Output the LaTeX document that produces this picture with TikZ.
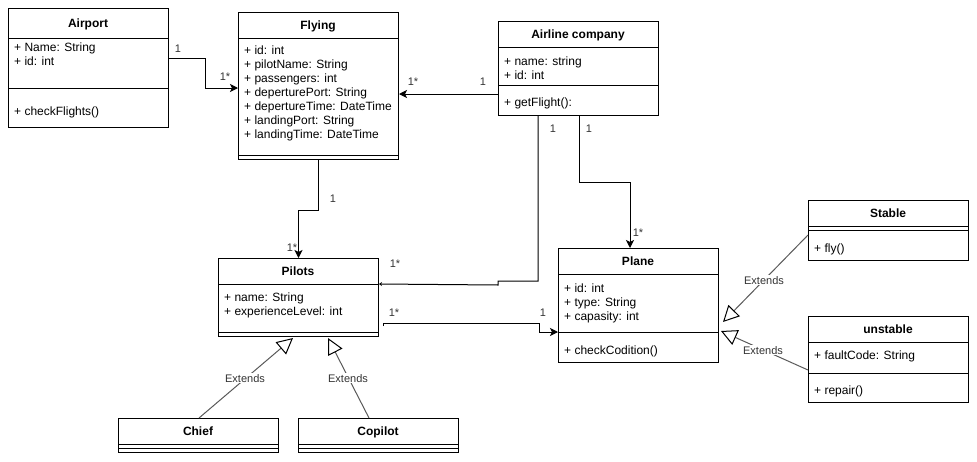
\documentclass[tikz,border=0pt]{standalone}
\usepackage{fontspec}
\setmainfont{Liberation Sans}
\usetikzlibrary{arrows.meta,calc}
\begin{document}
\begin{tikzpicture}[x=1pt,y=-1pt,
  cls/.style={draw, line width=1pt, anchor=north west, minimum width=160pt, inner sep=0pt, fill=white},
  ttl/.style={font=\fontsize{12}{14}\selectfont\bfseries, inner sep=0pt, text height=8.6pt, text depth=0pt},
  attr/.style={font=\fontsize{12}{14}\selectfont, anchor=west, inner sep=0pt, text height=8.6pt, text depth=0pt},
  div/.style={line width=1pt},
  assoc/.style={line width=1pt, -{Stealth[length=8pt,width=8pt,inset=2pt]}},
  tinyarrow/.style={line width=1pt, -{Stealth[length=3pt,width=4pt,inset=1pt]}},
  ext/.style={line width=1pt, draw=black!65, -{Triangle[open,length=16pt,width=16pt,black]}},
  lbl/.style={font=\fontsize{11}{13}\selectfont, text=black!80, inner sep=0pt, text height=8pt, text depth=0pt},
  extl/.style={lbl, fill=white, inner sep=1pt}
]
\useasboundingbox (0,0) rectangle (977,461);

% ---------- classes ----------
\node[cls, minimum height=119pt] (airport) at (8,8) {};
\draw[div] (airport.west |- 0,38) -- (airport.east |- 0,38);
\draw[div] (airport.west |- 0,88) -- (airport.east |- 0,88);
\node[ttl] (airportT) at (88,23) {Airport};
\node[attr] (airportA1) at (14,47) {+ Name: String};
\node[attr] (airportA2) at (14,61) {+ id: int};
\node[attr] (airportM1) at (14,111) {+ checkFlights()};

\node[cls, minimum height=147pt] (flying) at (238,12) {};
\draw[div] (flying.west |- 0,38) -- (flying.east |- 0,38);
\draw[div] (flying.west |- 0,155) -- (flying.east |- 0,155);
\node[ttl] (flyingT) at (318,25) {Flying};
\node[attr] (flyingA1) at (244,50.5) {+ id: int};
\node[attr] (flyingA2) at (244,64.5) {+ pilotName: String};
\node[attr] (flyingA3) at (244,78.5) {+ passengers: int};
\node[attr] (flyingA4) at (244,92.5) {+ deperturePort: String};
\node[attr] (flyingA5) at (244,106.5) {+ deperture\kern0.3ptTime: DateTime};
\node[attr] (flyingA6) at (244,120.5) {+ landingPort: String};
\node[attr] (flyingA7) at (244,134.5) {+ landingTime: DateTime};

\node[cls, minimum height=94pt] (airline) at (498,21) {};
\draw[div] (airline.west |- 0,47) -- (airline.east |- 0,47);
\draw[div] (airline.west |- 0,85) -- (airline.east |- 0,85);
\node[ttl] (airlineT) at (578,34) {Airline company};
\node[attr] (airlineA1) at (504,61) {+ name: string};
\node[attr] (airlineA2) at (504,75) {+ id: int};
\node[attr] (airlineM1) at (504,102) {+ getFlight():};

\node[cls, minimum height=78pt] (pilots) at (218,258) {};
\draw[div] (pilots.west |- 0,284) -- (pilots.east |- 0,284);
\draw[div] (pilots.west |- 0,332) -- (pilots.east |- 0,332);
\node[ttl] (pilotsT) at (298,271) {Pilots};
\node[attr] (pilotsA1) at (224,297) {+ name: String};
\node[attr] (pilotsA2) at (224,311) {+ experienceLevel: int};

\node[cls, minimum height=114pt] (plane) at (558,248) {};
\draw[div] (plane.west |- 0,274) -- (plane.east |- 0,274);
\draw[div] (plane.west |- 0,332) -- (plane.east |- 0,332);
\node[ttl] (planeT) at (638,261) {Plane};
\node[attr] (planeA1) at (564,288) {+ id: int};
\node[attr] (planeA2) at (564,302) {+ type: String};
\node[attr] (planeA3) at (564,316) {+ capasity: int};
\node[attr] (planeM1) at (564,350) {+ checkCodition()};

\node[cls, minimum height=60pt] (stable) at (808,200) {};
\draw[div] (stable.west |- 0,226) -- (stable.east |- 0,226);
\draw[div] (stable.west |- 0,230) -- (stable.east |- 0,230);
\node[ttl] (stableT) at (888,213) {Stable};
\node[attr] (stableM1) at (814,248) {+ fly()};

\node[cls, minimum height=86pt] (unstable) at (808,316) {};
\draw[div] (unstable.west |- 0,342) -- (unstable.east |- 0,342);
\draw[div] (unstable.west |- 0,373) -- (unstable.east |- 0,373);
\node[ttl] (unstableT) at (888,329) {unstable};
\node[attr] (unstableA1) at (814,355) {+ faultCode: String};
\node[attr] (unstableM1) at (814,390) {+ repair()};

\node[cls, minimum height=34pt] (chief) at (118,418) {};
\draw[div] (chief.west |- 0,444) -- (chief.east |- 0,444);
\draw[div] (chief.west |- 0,448) -- (chief.east |- 0,448);
\node[ttl] (chiefT) at (198,431) {Chief};

\node[cls, minimum height=34pt] (copilot) at (298,418) {};
\draw[div] (copilot.west |- 0,444) -- (copilot.east |- 0,444);
\draw[div] (copilot.west |- 0,448) -- (copilot.east |- 0,448);
\node[ttl] (copilotT) at (378,431) {Copilot};

% ---------- associations ----------
\draw[assoc] ($(airport.north east)+(0,50)$) -- ++(36,0) |- ($(flying.north west)+(0,76)$);
\node[lbl] (l1) at (178,48) {1};
\node[lbl] (l2) at (225,76) {1*};

\draw[assoc] ($(airline.north west)+(0,73)$) -- ($(flying.north east)+(0,82)$);
\node[lbl] (l3) at (483,81) {1};
\node[lbl] (l4) at (413,81) {1*};

\draw[assoc] ($(airline.south west)+(81,0)$) -- ++(0,66) -| ($(plane.north west)+(72,0)$);
\node[lbl] (l5) at (589,128) {1};
\node[lbl] (l6) at (638,232) {1*};

\draw[tinyarrow] ($(airline.south west)+(40,0)$) -- ++(0,165) -- ++(-40,0) -- ++(0,4) -- ($(pilots.north east)+(0,26)$);
\node[lbl] (l7) at (553,128) {1};
\node[lbl] (l8) at (395,263) {1*};

\draw[assoc] (flying.south) -- ++(0,50) -| (pilots.north);
\node[lbl] (l9) at (333,198) {1};
\node[lbl] (l10) at (292,247) {1*};

\draw[assoc] ($(pilots.north east)+(4,68)$) -- ++(0,-3) -- ++(156,0) |- ($(plane.north west)+(0,84)$);
\node[lbl] (l11) at (394,312) {1*};
\node[lbl] (l12) at (543,312) {1};

% ---------- generalisations ----------
\draw[ext] ($(stable.north west)+(0,35)$) -- ($(plane.north east)+(4,74)$);
\node[extl] (e1) at (764,280) {Extends};
\draw[ext] ($(unstable.north west)+(0,54)$) -- ($(plane.north east)+(2,83)$);
\node[extl] (e2) at (763,350) {Extends};
\draw[ext] ($(chief.north west)+(81,0)$) -- ($(pilots.south west)+(75,1)$);
\node[extl] (e3) at (245,378) {Extends};
\draw[ext] ($(copilot.north west)+(71,0)$) -- ($(pilots.south west)+(110,1)$);
\node[extl] (e4) at (348,378) {Extends};
\end{tikzpicture}
\end{document}
